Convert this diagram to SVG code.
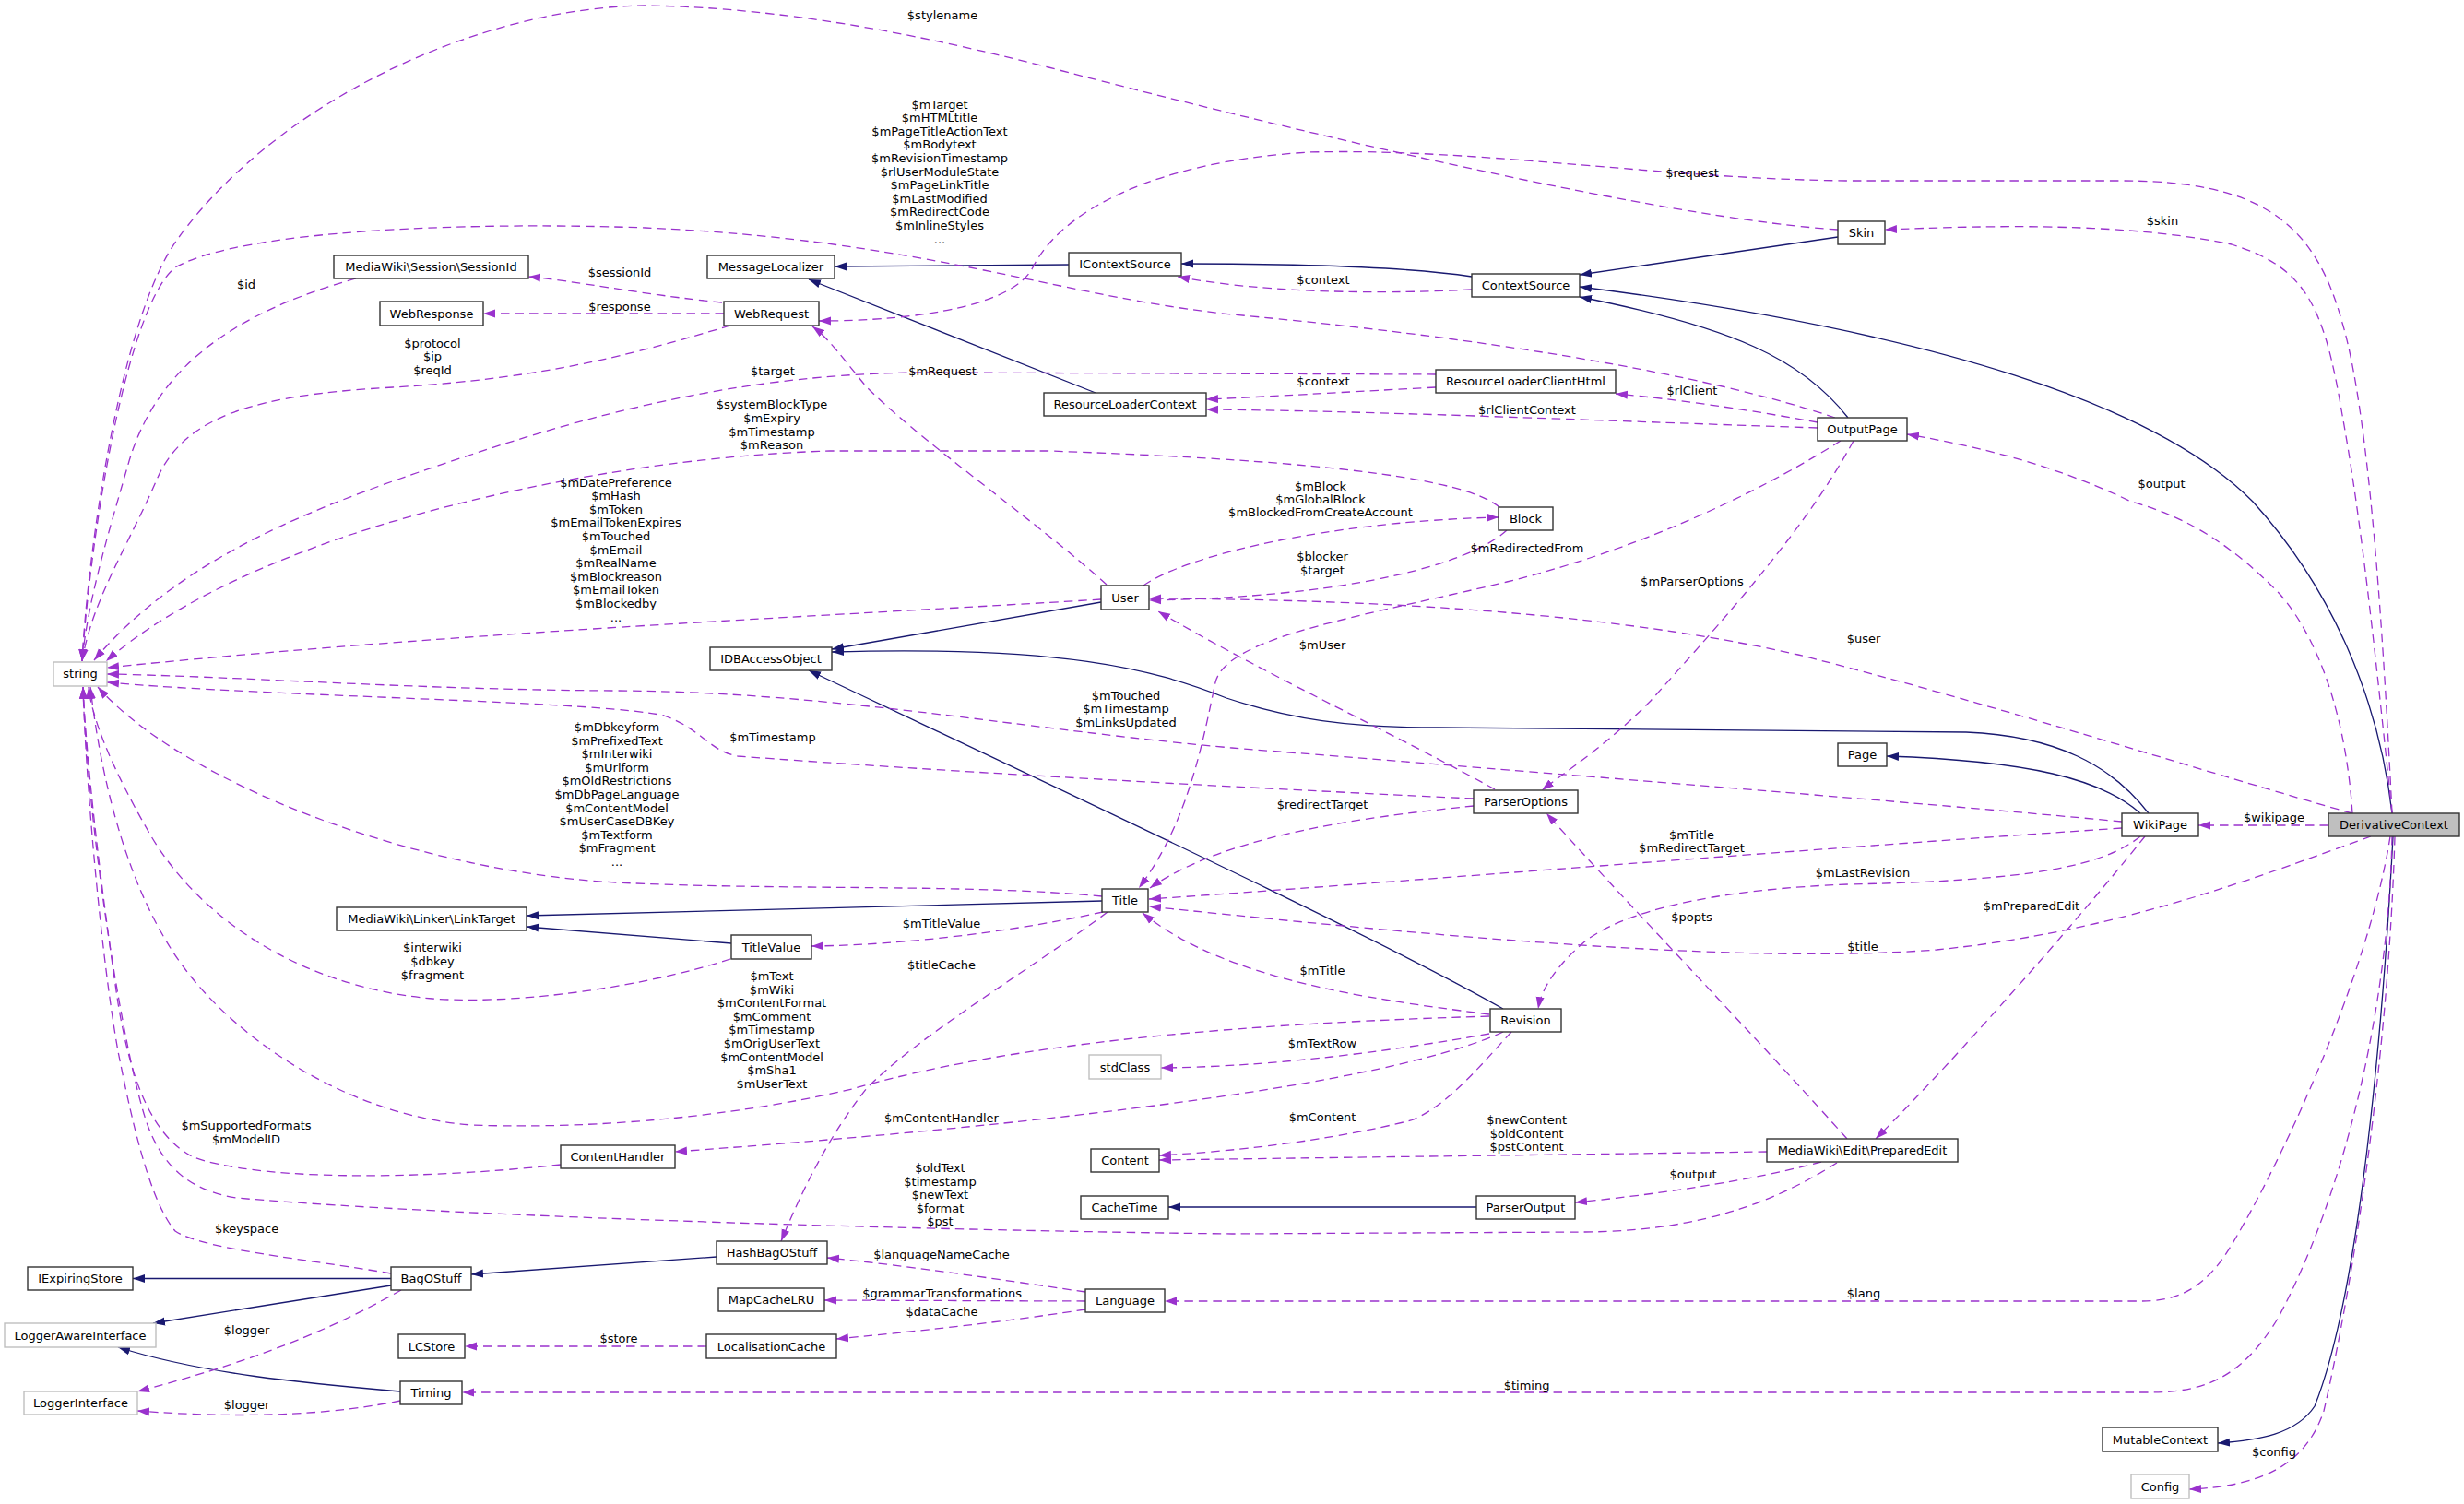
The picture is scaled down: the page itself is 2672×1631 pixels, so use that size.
<svg xmlns="http://www.w3.org/2000/svg" width="2672" height="1631" viewBox="0 0 2672 1631">
<style>
.node rect{fill:#fff;stroke:#333;stroke-width:1.4}
.node.ext rect{stroke:#bfbfbf}
.node.main rect{fill:#bfbfbf}
text{font-family:"DejaVu Sans","Liberation Sans",sans-serif;font-size:13px;fill:#000;text-anchor:middle}
.i{fill:none;stroke:#191970;stroke-width:1.3;marker-end:url(#ab)}
.u{fill:none;stroke:#9a32cd;stroke-width:1.3;stroke-dasharray:9.5,6;marker-end:url(#ap)}
</style>
<defs>
<marker id="ab" viewBox="0 0 14 10" refX="13" refY="5" markerWidth="14" markerHeight="10" markerUnits="userSpaceOnUse" orient="auto"><path d="M0,0.5 L13,5 L0,9.5z" fill="#191970"/></marker>
<marker id="ap" viewBox="0 0 14 10" refX="13" refY="5" markerWidth="14" markerHeight="10" markerUnits="userSpaceOnUse" orient="auto"><path d="M0,0.5 L13,5 L0,9.5z" fill="#9a32cd"/></marker>
</defs>
<rect x="0" y="0" width="2672" height="1631" fill="#fff"/>
<g id="edges">
<path class="i" d="M1159,287 L905,289"/>
<path class="i" d="M1188,426 L877,303"/>
<path class="i" d="M1596,300 C1530,290 1420,286 1281,286"/>
<path class="i" d="M1993,257 L1713,298"/>
<path class="i" d="M2004,453 C1955,390 1880,355 1713,322"/>
<path class="i" d="M2594,882 C2580,760 2530,640 2443,544 C2340,440 2100,360 1713,311"/>
<path class="i" d="M1194,653 L902,704"/>
<path class="i" d="M2330,882 C2290,830 2230,798 2132,794 L1560,789 C1460,789 1400,780 1330,757 C1250,725 1150,700 902,707"/>
<path class="i" d="M2321,882 C2280,845 2200,825 2046,820"/>
<path class="i" d="M1630,1094 C1500,1020 1200,880 877,727"/>
<path class="i" d="M1195,977 L571,993"/>
<path class="i" d="M793,1023 L571,1005"/>
<path class="i" d="M424,1386.5 L144,1386.5"/>
<path class="i" d="M424,1394 L166,1435"/>
<path class="i" d="M777,1363 L511,1382"/>
<path class="i" d="M434,1509 C330,1500 220,1490 128,1461"/>
<path class="i" d="M1601,1309 L1267,1309"/>
<path class="i" d="M2595,907 C2585,1100 2560,1400 2510,1525 C2490,1555 2450,1562 2405,1565"/>

<path class="u" d="M1993,249 C1850,240 1550,180 1137,73 C1000,38 850,8 700,6 C520,8 300,110 192,260 C130,346 95,600 89,717"/>
<path class="u" d="M1990,453 C1850,405 1600,365 1336,341 C1150,322 1000,260 700,247 C500,240 260,250 190,290 C140,330 100,560 89,717"/>
<path class="u" d="M386,302 C250,340 170,400 140,500 C120,570 95,650 89,717"/>
<path class="u" d="M792,353 C700,380 600,410 426,420 C280,428 200,450 170,520 C140,590 100,650 89,717"/>
<path class="u" d="M1557,406 L1000,404 C850,405 700,430 511,493 C350,546 200,600 102,716"/>
<path class="u" d="M1626,550 C1590,520 1450,500 1137,489 L900,489 C700,495 500,540 383,579 C280,613 180,660 115,717"/>
<path class="u" d="M1194,650 C900,668 500,685 116,724"/>
<path class="u" d="M2301,891 C2100,872 1700,840 1336,811 C1100,790 900,750 668,749 C450,748 250,733 116,731"/>
<path class="u" d="M1598,866 C1300,852 1000,835 800,820 C770,815 760,790 720,776 C650,760 300,756 116,740"/>
<path class="u" d="M1195,972 C1050,958 850,966 668,957 C450,945 200,850 106,745"/>
<path class="u" d="M792,1040 C700,1070 560,1090 469,1083 C320,1070 210,990 160,900 C120,830 100,780 96,745"/>
<path class="u" d="M1615,1102 C1350,1110 1100,1130 924,1181 C800,1210 650,1225 511,1220 C380,1210 260,1130 200,1050 C140,970 110,850 98,745"/>
<path class="u" d="M608,1263 C450,1280 280,1280 210,1255 C160,1230 140,1160 128,1088 C115,1000 95,850 90,745"/>
<path class="u" d="M1992,1261 C1930,1300 1850,1335 1719,1336 L1336,1338 C1000,1334 500,1320 256,1299 C200,1290 175,1260 160,1220 C135,1150 95,900 90,745"/>
<path class="u" d="M424,1381 C330,1365 220,1355 190,1335 C160,1300 140,1200 128,1140 C110,1040 93,850 90,745"/>
<path class="u" d="M783,328 C700,320 620,304 573,300"/>
<path class="u" d="M785,340 L524,340"/>
<path class="u" d="M2594,882 C2585,700 2570,450 2540,350 C2510,240 2450,196 2300,196 L2004,196 C1800,194 1600,160 1420,165 C1250,175 1150,230 1120,290 C1100,330 1000,348 888,348"/>
<path class="u" d="M2594,882 C2575,700 2560,560 2540,450 C2520,330 2500,290 2420,265 C2300,240 2150,245 2044,249"/>
<path class="u" d="M2551,882 C2545,790 2520,700 2473,645 C2420,590 2370,560 2311,544 C2230,505 2150,485 2068,471"/>
<path class="u" d="M2551,882 C2400,840 2150,760 1950,710 C1750,665 1500,650 1246,649"/>
<path class="u" d="M2525,895 L2384,895"/>
<path class="u" d="M2571,907 C2450,950 2300,1010 2100,1030 C1900,1045 1600,1020 1246,983"/>
<path class="u" d="M2592,907 C2570,1050 2480,1250 2420,1350 C2390,1400 2360,1411 2320,1411 L1263,1411"/>
<path class="u" d="M2594,907 C2590,1100 2540,1300 2470,1430 C2430,1495 2390,1510 2330,1510 L501,1510"/>
<path class="u" d="M2597,907 C2590,1150 2550,1400 2520,1530 C2500,1590 2450,1612 2374,1615"/>
<path class="u" d="M1596,314 C1480,320 1360,316 1277,300"/>
<path class="u" d="M1557,420 C1460,425 1380,430 1308,433"/>
<path class="u" d="M1971,464 C1700,455 1500,446 1308,444"/>
<path class="u" d="M1971,458 C1900,445 1820,433 1752,427"/>
<path class="u" d="M2010,478 C1960,570 1880,660 1790,760 C1740,810 1700,835 1672,857"/>
<path class="u" d="M1996,478 C1930,520 1800,590 1634,631 C1480,668 1330,690 1318,740 C1305,800 1290,890 1235,963"/>
<path class="u" d="M1621,856 C1520,800 1360,725 1256,663"/>
<path class="u" d="M1598,874 C1480,886 1330,905 1247,963"/>
<path class="u" d="M2301,898 C1900,925 1500,958 1246,975"/>
<path class="u" d="M2321,907 C2280,940 2200,955 2004,959 C1850,965 1760,990 1720,1020 C1690,1045 1672,1070 1668,1094"/>
<path class="u" d="M2326,907 C2260,990 2120,1150 2034,1235"/>
<path class="u" d="M2003,1235 C1900,1120 1760,975 1677,882"/>
<path class="u" d="M1615,1100 C1500,1085 1330,1065 1239,990"/>
<path class="u" d="M1615,1121 C1480,1145 1360,1157 1259,1158"/>
<path class="u" d="M1630,1119 C1520,1170 1200,1215 732,1249"/>
<path class="u" d="M1639,1119 C1610,1150 1570,1200 1530,1215 C1450,1235 1350,1248 1257,1253"/>
<path class="u" d="M1916,1249 L1257,1258"/>
<path class="u" d="M1975,1260 C1900,1280 1800,1295 1708,1304"/>
<path class="u" d="M1201,989 C1120,1050 1000,1120 940,1180 C900,1230 870,1290 847,1346"/>
<path class="u" d="M1196,989 C1100,1010 980,1025 880,1026"/>
<path class="u" d="M1177,1401 C1080,1387 980,1372 897,1364"/>
<path class="u" d="M1177,1411 L894,1410"/>
<path class="u" d="M1177,1420 C1080,1435 980,1445 907,1452"/>
<path class="u" d="M766,1460 L504,1460"/>
<path class="u" d="M435,1399 C380,1430 300,1470 149,1509"/>
<path class="u" d="M434,1519 C370,1532 280,1540 149,1530"/>
<path class="u" d="M1240,635 C1290,600 1450,565 1625,561"/>
<path class="u" d="M1634,575 C1590,615 1450,648 1246,651"/>
<path class="u" d="M1200,634 C1130,570 1000,480 940,420 C915,390 900,368 881,354"/>
</g>
<g id="edge-labels">
<text x="1022" y="20.5">$stylename</text>
<text x="1019" y="117.5"><tspan x="1019">$mTarget</tspan><tspan x="1019" dy="14.6">$mHTMLtitle</tspan><tspan x="1019" dy="14.6">$mPageTitleActionText</tspan><tspan x="1019" dy="14.6">$mBodytext</tspan><tspan x="1019" dy="14.6">$mRevisionTimestamp</tspan><tspan x="1019" dy="14.6">$rlUserModuleState</tspan><tspan x="1019" dy="14.6">$mPageLinkTitle</tspan><tspan x="1019" dy="14.6">$mLastModified</tspan><tspan x="1019" dy="14.6">$mRedirectCode</tspan><tspan x="1019" dy="14.6">$mInlineStyles</tspan><tspan x="1019" dy="14.6">...</tspan></text>
<text x="1835" y="191.5">$request</text>
<text x="2345" y="244">$skin</text>
<text x="267" y="312.5">$id</text>
<text x="672" y="299.5">$sessionId</text>
<text x="672" y="336.5">$response</text>
<text x="469" y="376.5"><tspan x="469">$protocol</tspan><tspan x="469" dy="14.5">$ip</tspan><tspan x="469" dy="14.5">$reqId</tspan></text>
<text x="1435" y="307.5">$context</text>
<text x="1435" y="417.5">$context</text>
<text x="1835" y="427.5">$rlClient</text>
<text x="1656" y="449">$rlClientContext</text>
<text x="838" y="407">$target</text>
<text x="1022" y="407">$mRequest</text>
<text x="837" y="443"><tspan x="837">$systemBlockType</tspan><tspan x="837" dy="14.8">$mExpiry</tspan><tspan x="837" dy="14.8">$mTimestamp</tspan><tspan x="837" dy="14.8">$mReason</tspan></text>
<text x="2344" y="528.5">$output</text>
<text x="668" y="527.5"><tspan x="668">$mDatePreference</tspan><tspan x="668" dy="14.6">$mHash</tspan><tspan x="668" dy="14.6">$mToken</tspan><tspan x="668" dy="14.6">$mEmailTokenExpires</tspan><tspan x="668" dy="14.6">$mTouched</tspan><tspan x="668" dy="14.6">$mEmail</tspan><tspan x="668" dy="14.6">$mRealName</tspan><tspan x="668" dy="14.6">$mBlockreason</tspan><tspan x="668" dy="14.6">$mEmailToken</tspan><tspan x="668" dy="14.6">$mBlockedby</tspan><tspan x="668" dy="14.6">...</tspan></text>
<text x="1432" y="531.5"><tspan x="1432">$mBlock</tspan><tspan x="1432" dy="14.3">$mGlobalBlock</tspan><tspan x="1432" dy="14.3">$mBlockedFromCreateAccount</tspan></text>
<text x="1656" y="599">$mRedirectedFrom</text>
<text x="1434" y="608"><tspan x="1434">$blocker</tspan><tspan x="1434" dy="15">$target</tspan></text>
<text x="1835" y="635">$mParserOptions</text>
<text x="2021" y="696.5">$user</text>
<text x="1434" y="703.5">$mUser</text>
<text x="1221" y="758.5"><tspan x="1221">$mTouched</tspan><tspan x="1221" dy="14.6">$mTimestamp</tspan><tspan x="1221" dy="14.6">$mLinksUpdated</tspan></text>
<text x="838" y="803.5">$mTimestamp</text>
<text x="669" y="793"><tspan x="669">$mDbkeyform</tspan><tspan x="669" dy="14.6">$mPrefixedText</tspan><tspan x="669" dy="14.6">$mInterwiki</tspan><tspan x="669" dy="14.6">$mUrlform</tspan><tspan x="669" dy="14.6">$mOldRestrictions</tspan><tspan x="669" dy="14.6">$mDbPageLanguage</tspan><tspan x="669" dy="14.6">$mContentModel</tspan><tspan x="669" dy="14.6">$mUserCaseDBKey</tspan><tspan x="669" dy="14.6">$mTextform</tspan><tspan x="669" dy="14.6">$mFragment</tspan><tspan x="669" dy="14.6">...</tspan></text>
<text x="1434" y="876.5">$redirectTarget</text>
<text x="2466" y="891">$wikipage</text>
<text x="1834.5" y="909.5"><tspan x="1834.5">$mTitle</tspan><tspan x="1834.5" dy="14.4">$mRedirectTarget</tspan></text>
<text x="2020" y="951">$mLastRevision</text>
<text x="2203" y="987">$mPreparedEdit</text>
<text x="1834.5" y="999">$popts</text>
<text x="1021" y="1005.5">$mTitleValue</text>
<text x="2020" y="1030.5">$title</text>
<text x="469" y="1031.5"><tspan x="469">$interwiki</tspan><tspan x="469" dy="15">$dbkey</tspan><tspan x="469" dy="15">$fragment</tspan></text>
<text x="1021" y="1050.5">$titleCache</text>
<text x="1434" y="1057">$mTitle</text>
<text x="837" y="1063"><tspan x="837">$mText</tspan><tspan x="837" dy="14.6">$mWiki</tspan><tspan x="837" dy="14.6">$mContentFormat</tspan><tspan x="837" dy="14.6">$mComment</tspan><tspan x="837" dy="14.6">$mTimestamp</tspan><tspan x="837" dy="14.6">$mOrigUserText</tspan><tspan x="837" dy="14.6">$mContentModel</tspan><tspan x="837" dy="14.6">$mSha1</tspan><tspan x="837" dy="14.6">$mUserText</tspan></text>
<text x="1434" y="1136">$mTextRow</text>
<text x="1434" y="1215.5">$mContent</text>
<text x="1021" y="1217">$mContentHandler</text>
<text x="1655.6" y="1219"><tspan x="1655.6">$newContent</tspan><tspan x="1655.6" dy="14.5">$oldContent</tspan><tspan x="1655.6" dy="14.5">$pstContent</tspan></text>
<text x="267" y="1225"><tspan x="267">$mSupportedFormats</tspan><tspan x="267" dy="15">$mModelID</tspan></text>
<text x="1019.5" y="1271"><tspan x="1019.5">$oldText</tspan><tspan x="1019.5" dy="14.6">$timestamp</tspan><tspan x="1019.5" dy="14.6">$newText</tspan><tspan x="1019.5" dy="14.6">$format</tspan><tspan x="1019.5" dy="14.6">$pst</tspan></text>
<text x="1836" y="1277.5">$output</text>
<text x="267.6" y="1337">$keyspace</text>
<text x="1021" y="1365">$languageNameCache</text>
<text x="1021.6" y="1407">$grammarTransformations</text>
<text x="2021" y="1407">$lang</text>
<text x="1021.6" y="1427">$dataCache</text>
<text x="267.6" y="1447">$logger</text>
<text x="671" y="1456">$store</text>
<text x="1655.6" y="1507">$timing</text>
<text x="267.6" y="1528">$logger</text>
<text x="2466" y="1579">$config</text>
</g>
<g id="n-SessionId" class="node"><rect x="362" y="277" width="211" height="25"/><text x="467.5" y="294">MediaWiki\Session\SessionId</text></g>
<g id="n-WebResponse" class="node"><rect x="412" y="327" width="112" height="26"/><text x="468" y="344.5">WebResponse</text></g>
<g id="n-MessageLocalizer" class="node"><rect x="767" y="277" width="138" height="25"/><text x="836" y="294">MessageLocalizer</text></g>
<g id="n-WebRequest" class="node"><rect x="785" y="327" width="103" height="26"/><text x="836.5" y="344.5">WebRequest</text></g>
<g id="n-IContextSource" class="node"><rect x="1159" y="274" width="122" height="25"/><text x="1220" y="291">IContextSource</text></g>
<g id="n-ResourceLoaderContext" class="node"><rect x="1132" y="426" width="176" height="25"/><text x="1220" y="443">ResourceLoaderContext</text></g>
<g id="n-ContextSource" class="node"><rect x="1596" y="297" width="117" height="25"/><text x="1654.5" y="314">ContextSource</text></g>
<g id="n-Skin" class="node"><rect x="1993" y="240" width="51" height="25"/><text x="2018.5" y="257">Skin</text></g>
<g id="n-ResourceLoaderClientHtml" class="node"><rect x="1557" y="401" width="195" height="25"/><text x="1654.5" y="418">ResourceLoaderClientHtml</text></g>
<g id="n-OutputPage" class="node"><rect x="1971" y="453" width="97" height="25"/><text x="2019.5" y="470">OutputPage</text></g>
<g id="n-string" class="node ext"><rect x="58" y="718" width="58" height="26"/><text x="87" y="735">string</text></g>
<g id="n-LinkTarget" class="node"><rect x="365" y="984" width="206" height="25"/><text x="468" y="1001">MediaWiki\Linker\LinkTarget</text></g>
<g id="n-User" class="node"><rect x="1194" y="635" width="52" height="26"/><text x="1220" y="652.5">User</text></g>
<g id="n-IDBAccessObject" class="node"><rect x="770" y="702" width="132" height="25"/><text x="836" y="719">IDBAccessObject</text></g>
<g id="n-Title" class="node"><rect x="1195" y="964" width="50" height="25"/><text x="1220" y="981">Title</text></g>
<g id="n-TitleValue" class="node"><rect x="793" y="1014" width="87" height="26"/><text x="836.5" y="1031.5">TitleValue</text></g>
<g id="n-Block" class="node"><rect x="1625" y="550" width="59" height="25"/><text x="1654.5" y="567">Block</text></g>
<g id="n-ParserOptions" class="node"><rect x="1598" y="857" width="113" height="25"/><text x="1654.5" y="874">ParserOptions</text></g>
<g id="n-Page" class="node"><rect x="1993" y="806" width="53" height="25"/><text x="2019.5" y="823">Page</text></g>
<g id="n-WikiPage" class="node"><rect x="2301" y="882" width="83" height="25"/><text x="2342.5" y="899">WikiPage</text></g>
<g id="n-DerivativeContext" class="node main"><rect x="2525" y="882" width="142" height="25"/><text x="2596" y="899">DerivativeContext</text></g>
<g id="n-IExpiringStore" class="node"><rect x="30" y="1374" width="114" height="25"/><text x="87" y="1391">IExpiringStore</text></g>
<g id="n-LoggerAwareInterface" class="node ext"><rect x="5" y="1435" width="164" height="26"/><text x="87" y="1452.5">LoggerAwareInterface</text></g>
<g id="n-LoggerInterface" class="node ext"><rect x="26" y="1509" width="123" height="25"/><text x="87.5" y="1526">LoggerInterface</text></g>
<g id="n-BagOStuff" class="node"><rect x="424" y="1374" width="87" height="25"/><text x="467.5" y="1391">BagOStuff</text></g>
<g id="n-LCStore" class="node"><rect x="432" y="1447" width="72" height="26"/><text x="468" y="1464.5">LCStore</text></g>
<g id="n-Timing" class="node"><rect x="434" y="1498" width="67" height="25"/><text x="467.5" y="1515">Timing</text></g>
<g id="n-ContentHandler" class="node"><rect x="608" y="1242" width="124" height="25"/><text x="670" y="1259">ContentHandler</text></g>
<g id="n-stdClass" class="node ext"><rect x="1181" y="1144" width="78" height="26"/><text x="1220" y="1161.5">stdClass</text></g>
<g id="n-Content" class="node"><rect x="1183" y="1246" width="74" height="25"/><text x="1220" y="1263">Content</text></g>
<g id="n-CacheTime" class="node"><rect x="1172" y="1297" width="95" height="25"/><text x="1219.5" y="1314">CacheTime</text></g>
<g id="n-HashBagOStuff" class="node"><rect x="777" y="1346" width="120" height="25"/><text x="837" y="1363">HashBagOStuff</text></g>
<g id="n-MapCacheLRU" class="node"><rect x="779" y="1397" width="115" height="25"/><text x="836.5" y="1414">MapCacheLRU</text></g>
<g id="n-LocalisationCache" class="node"><rect x="766" y="1447" width="141" height="26"/><text x="836.5" y="1464.5">LocalisationCache</text></g>
<g id="n-Language" class="node"><rect x="1177" y="1398" width="86" height="25"/><text x="1220" y="1415">Language</text></g>
<g id="n-Revision" class="node"><rect x="1616" y="1094" width="77" height="25"/><text x="1654.5" y="1111">Revision</text></g>
<g id="n-PreparedEdit" class="node"><rect x="1916" y="1235" width="207" height="25"/><text x="2019.5" y="1252">MediaWiki\Edit\PreparedEdit</text></g>
<g id="n-ParserOutput" class="node"><rect x="1601" y="1297" width="107" height="25"/><text x="1654.5" y="1314">ParserOutput</text></g>
<g id="n-MutableContext" class="node"><rect x="2280" y="1548" width="125" height="26"/><text x="2342.5" y="1565.5">MutableContext</text></g>
<g id="n-Config" class="node ext"><rect x="2311" y="1599" width="63" height="26"/><text x="2342.5" y="1616.5">Config</text></g>
</svg>
